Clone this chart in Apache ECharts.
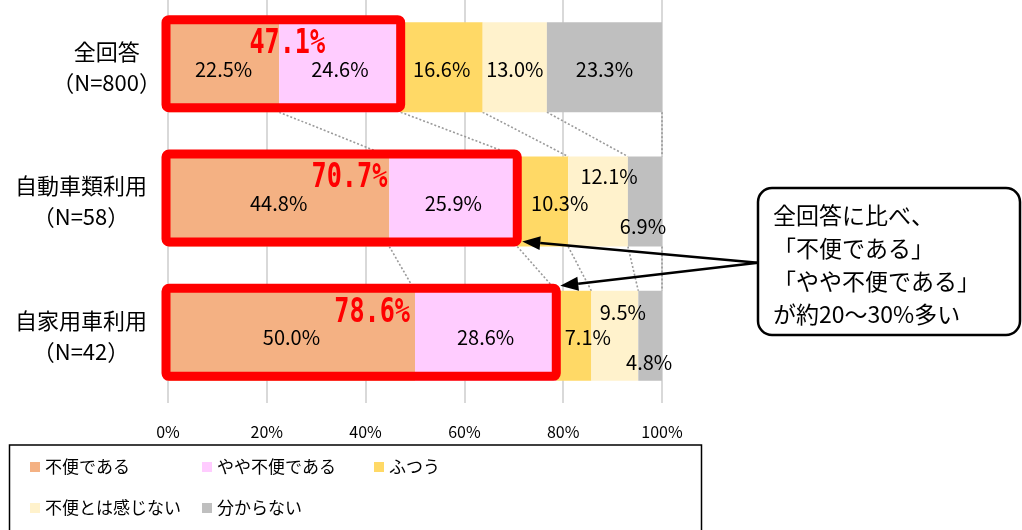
<!DOCTYPE html>
<html><head><meta charset="utf-8">
<script src="https://cdn.jsdelivr.net/npm/echarts@6/dist/echarts.min.js"></script>
<style>html,body{margin:0;padding:0;background:#fff}#c{width:1022px;height:530px}</style>
</head><body><div id="c"></div>
<script>
// ---- data ----
const categories = ['全回答\n（N=800）', '自動車類利用\n（N=58）', '自家用車利用\n（N=42）'];
const seriesNames = ['不便である', 'やや不便である', 'ふつう', '不便とは感じない', '分からない'];
const fuben      = [22.5, 44.8, 50.0];
const yayaFuben  = [24.6, 25.9, 28.6];
const futsuu     = [16.6, 10.3, 7.1];
const notFuben   = [13.0, 12.1, 9.5];
const wakaranai  = [23.3, 6.9, 4.8];
const xTickMin = 0, xTickMax = 100, xTickStep = 20;
const calloutLines = ['全回答に比べ、', '「不便である」', '「やや不便である」', 'が約20～30%多い'];

// ---- style ----
const colors = ['#F4B183', '#FFCCFF', '#FFD966', '#FFF2CC', '#BFBFBF'];
const JP = '"Noto Sans CJK JP", "Noto Sans", sans-serif';
const NUM = '"Noto Sans CJK JP", sans-serif';
const BAR_W = 90;
// label nudges for small segments [seriesIndex][catIndex]
const labelNudge = {
  '2-1': [17, 0], '3-1': [11, -27], '4-1': [-2, 23],
  '2-2': [14, 0], '3-2': [8, -25], '4-2': [-1, 25]
};
const bigDx = [46, -2, -5];
const catLabelPad = [0, 14, 14];

const allSeries = [fuben, yayaFuben, futsuu, notFuben, wakaranai];
const cum = categories.map((c, i) => {
  let s = 0; const out = [0];
  allSeries.forEach(arr => { s += arr[i]; out.push(Math.round(s * 10) / 10); });
  return out;
});

const barSeries = allSeries.map((arr, si) => ({
  name: seriesNames[si], type: 'bar', stack: 'total', barWidth: BAR_W, z: 2,
  itemStyle: { color: colors[si] },
  label: { show: true, position: 'inside', color: '#000', fontSize: 20, fontFamily: NUM,
           offset: [0, 2], formatter: p => p.value.toFixed(1) + '%' },
  data: arr.map((v, ci) => {
    const n = labelNudge[si + '-' + ci];
    return n ? { value: v, label: { offset: [n[0], n[1] + 2] } } : v;
  })
}));

// connector (series lines) data
const connData = [];
for (let i = 0; i < categories.length - 1; i++) {
  for (let k = 1; k <= allSeries.length; k++) connData.push([cum[i][k], i, cum[i + 1][k]]);
}

const connSeries = {
  type: 'custom', z: 1, silent: true, encode: { x: 0, y: 1 },
  data: connData,
  renderItem: (params, api) => {
    const i = api.value(1);
    const a = api.coord([api.value(0), i]);
    const b = api.coord([api.value(2), i + 1]);
    return { type: 'line', shape: { x1: a[0], y1: a[1] + BAR_W / 2, x2: b[0], y2: b[1] - BAR_W / 2 },
      style: { stroke: '#9a9a9a', lineWidth: 1.6, lineDash: [2, 2] } };
  }
};

const frameSeries = {
  type: 'custom', z: 5, silent: true, encode: { x: 0, y: 1 },
  data: categories.map((c, i) => [fuben[i] + yayaFuben[i], i, fuben[i]]),
  renderItem: (params, api) => {
    const cat = api.value(1), sum = api.value(0), s1 = api.value(2);
    const p0 = api.coord([0, cat]), p1 = api.coord([sum, cat]), pS = api.coord([s1, cat]);
    const top = p0[1] - BAR_W / 2;
    return { type: 'group', children: [
      { type: 'rect', shape: { x: p0[0] - 2, y: top - 2.5, width: p1[0] - p0[0] + 2, height: BAR_W - 2, r: 3 },
        style: { fill: 'none', stroke: '#ff0000', lineWidth: 9, lineJoin: 'round' } },
      { type: 'text', x: pS[0] + bigDx[params.dataIndex], y: p0[1] - 23, scaleX: 0.74,
        style: { text: (Math.round(sum * 10) / 10).toFixed(1) + '%', fill: '#ff0000',
                 font: 'bold 34px "DejaVu Sans Mono", monospace', align: 'right', verticalAlign: 'middle' } }
    ] };
  }
};

const arrowOrigin = [758, 262.7];
const arrowSeries = {
  type: 'custom', z: 6, silent: true, encode: { x: 0, y: 1 },
  data: [[fuben[1] + yayaFuben[1], 1, 1], [fuben[2] + yayaFuben[2], 2, 0]],
  renderItem: (params, api) => {
    const cat = api.value(1), sum = api.value(0), bottom = api.value(2) === 1;
    const p = api.coord([sum, cat]);
    const tip = bottom ? [p[0] + 5, p[1] + BAR_W / 2 - 5] : [p[0] + 4, p[1] - BAR_W / 2 - 5];
    const dx = arrowOrigin[0] - tip[0], dy = arrowOrigin[1] - tip[1];
    const L = Math.sqrt(dx * dx + dy * dy), ux = dx / L, uy = dy / L;
    const hl = 18, hw = 7;
    const base = [tip[0] + ux * hl, tip[1] + uy * hl];
    return { type: 'group', children: [
      { type: 'line', shape: { x1: arrowOrigin[0], y1: arrowOrigin[1], x2: base[0], y2: base[1] },
        style: { stroke: '#000', lineWidth: 2.5 } },
      { type: 'polygon', shape: { points: [tip, [base[0] - uy * hw, base[1] + ux * hw], [base[0] + uy * hw, base[1] - ux * hw]] },
        style: { fill: '#000' } }
    ] };
  }
};

const richBase = { align: 'center', fontSize: 22, lineHeight: 31, color: '#000', fontFamily: JP };
const chart = echarts.init(document.getElementById('c'), null, { renderer: 'canvas' });
chart.setOption({
  backgroundColor: '#fff',
  animation: false,
  textStyle: { fontFamily: JP },
  grid: { left: 168, width: 494, top: -4, height: 407, containLabel: false },
  xAxis: {
    type: 'value', min: xTickMin, max: xTickMax, interval: xTickStep,
    axisLine: { show: false }, axisTick: { show: false },
    splitLine: { show: true, lineStyle: { color: '#d9d9d9', width: 2 } },
    axisLabel: { formatter: v => v + '%', color: '#000', fontSize: 16, fontFamily: NUM, margin: 21 }
  },
  yAxis: {
    type: 'category', data: categories, inverse: true,
    axisLine: { show: false }, axisTick: { show: false }, splitLine: { show: false },
    axisLabel: {
      margin: 7,
      formatter: (v, idx) => v.split('\n').map(s => '{c' + idx + '|' + s + '}').join('\n'),
      rich: {
        c0: Object.assign({}, richBase, { padding: [0, catLabelPad[0], 0, 0] }),
        c1: Object.assign({}, richBase, { padding: [0, catLabelPad[1], 0, 0] }),
        c2: Object.assign({}, richBase, { padding: [0, catLabelPad[2], 0, 0] })
      }
    }
  },
  legend: {
    data: seriesNames, left: 30, top: 450, width: 540, orient: 'horizontal', padding: 0,
    itemWidth: 10, itemHeight: 10, itemGap: 7, icon: 'rect',
    textStyle: { color: '#000', fontSize: 17, fontFamily: JP, width: 150, lineHeight: 34 }
  },
  graphic: [
    { type: 'rect', shape: { x: 9.5, y: 445, width: 692, height: 120 },
      style: { fill: 'none', stroke: '#000', lineWidth: 1.5 }, z: 0 },
    { type: 'rect', shape: { x: 758, y: 188, width: 262, height: 147, r: 14 },
      style: { fill: '#fff', stroke: '#000', lineWidth: 2.5 }, z: 10 },
    { type: 'text', x: 773, y: 198.5, z: 11,
      style: { text: calloutLines.join('\n'), fill: '#000', font: '23px ' + JP, lineHeight: 33,
               align: 'left', verticalAlign: 'top' } }
  ],
  series: [connSeries, ...barSeries, frameSeries, arrowSeries]
});
</script></body></html>
